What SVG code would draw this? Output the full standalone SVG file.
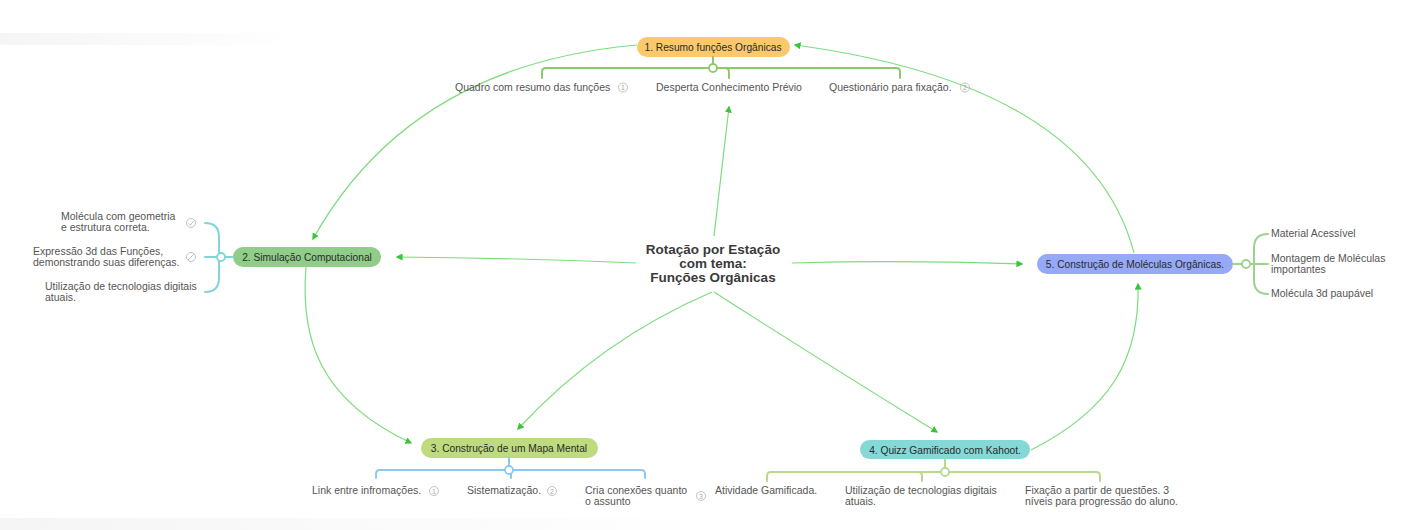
<svg xmlns="http://www.w3.org/2000/svg" width="1416" height="530" viewBox="0 0 1416 530">
<defs>
<marker id="arr" viewBox="0 0 10 10" refX="8" refY="5" markerWidth="7" markerHeight="7" orient="auto" markerUnits="userSpaceOnUse">
<path d="M0,0 L10,5 L0,10 z" fill="#3cc43c"/>
</marker>
<linearGradient id="fadeL" x1="0" y1="0" x2="1" y2="0">
<stop offset="0" stop-color="#f5f5f5"/><stop offset="1" stop-color="#ffffff"/>
</linearGradient>
</defs>
<style>
.pill{stroke:none}
.pt{font-family:"Liberation Sans",Arial,sans-serif;font-size:10.2px;fill:#2a2a2a;text-anchor:middle}
.ct{font-family:"Liberation Sans",Arial,sans-serif;font-size:10.5px;fill:#555}
.ctr{font-family:"Liberation Sans",Arial,sans-serif;font-size:13.5px;font-weight:bold;fill:#3a3a3a;text-anchor:middle}
.conn{fill:none;stroke:#7ddc7d;stroke-width:1.2}
.br{fill:none;stroke-width:2;stroke-linecap:round}
.knob{fill:#fff;stroke-width:1.8}
.ic{fill:none;stroke:#bbb;stroke-width:0.9}
.icn{font-family:"Liberation Sans",Arial,sans-serif;font-size:7px;fill:#aaa;text-anchor:middle}
</style>
<rect width="1416" height="530" fill="#ffffff"/>
<rect x="0" y="33" width="300" height="12" fill="url(#fadeL)"/>
<rect x="0" y="518" width="720" height="12" fill="url(#fadeL)"/>

<g id="connectors">
<path class="conn" d="M714,236 L729,107" marker-end="url(#arr)"/>
<path class="conn" d="M636,263 Q520,258 397,257" marker-end="url(#arr)"/>
<path class="conn" d="M792,263 Q900,260 1022,264" marker-end="url(#arr)"/>
<path class="conn" d="M712,292 Q600,340 518,429" marker-end="url(#arr)"/>
<path class="conn" d="M714,292 Q820,360 937,432" marker-end="url(#arr)"/>
<path class="conn" d="M637,45 Q410,65 313,239" marker-end="url(#arr)"/>
<path class="conn" d="M306,267 C300,340 320,400 411,443" marker-end="url(#arr)"/>
<path class="conn" d="M1031,450 C1110,410 1140,360 1138,284" marker-end="url(#arr)"/>
<path class="conn" d="M1134,253 Q1090,85 795,45" marker-end="url(#arr)"/>
</g>

<g id="center">
<text class="ctr" x="713" y="254">Rotação por Estação</text>
<text class="ctr" x="713" y="268">com tema:</text>
<text class="ctr" x="713" y="282">Funções Orgânicas</text>
</g>

<g id="node1">
<rect class="pill" x="637" y="37" width="153" height="20" rx="10" fill="#fbc96c"/>
<text class="pt" x="713" y="51">1. Resumo funções Orgânicas</text>
<path class="br" stroke="#8cc96f" d="M713,57 L713,64 M542,78 L542,72 Q542,68 546,68 L896,68 Q900,68 900,72 L900,78 M725,68 Q729,68 729,72 L729,78"/>
<circle class="knob" stroke="#8cc96f" cx="713" cy="68" r="4"/>
</g>
<g id="node1-children">
<text class="ct" x="455" y="91">Quadro com resumo das funções</text>
<circle class="ic" cx="623" cy="87.5" r="4.5"/><text class="icn" x="623" y="90">1</text>
<text class="ct" x="656" y="91">Desperta Conhecimento Prévio</text>
<text class="ct" x="829" y="91">Questionário para fixação.</text>
<circle class="ic" cx="965" cy="87.5" r="4.5"/><text class="icn" x="965" y="90">2</text>
</g>

<g id="node2">
<rect class="pill" x="233" y="247" width="148" height="20" rx="10" fill="#8fcd88"/>
<text class="pt" x="307" y="261">2. Simulação Computacional</text>
<path class="br" stroke="#7fd4d8" d="M205,223 Q219,223 219,237 L219,278 Q219,292 205,292 M205,257 L233,257"/>
<circle class="knob" stroke="#7fd4d8" cx="221" cy="257" r="4"/>
</g>
<g id="node2-children">
<text class="ct" x="61" y="220">Molécula com geometria</text>
<text class="ct" x="61" y="231">e estrutura correta.</text>
<circle class="ic" cx="191" cy="223" r="4.5"/><path class="ic" d="M188.5,223.5 L190.5,225 L193.5,221"/>
<text class="ct" x="33" y="255">Expressão 3d das Funções,</text>
<text class="ct" x="33" y="266">demonstrando suas diferenças.</text>
<circle class="ic" cx="191" cy="257" r="4.5"/><path class="ic" d="M188,260 L194,254"/>
<text class="ct" x="45" y="290">Utilização de tecnologias digitais</text>
<text class="ct" x="45" y="301">atuais.</text>
</g>

<g id="node5">
<rect class="pill" x="1037" y="254" width="196" height="20" rx="10" fill="#95a9f6"/>
<text class="pt" x="1135" y="268">5. Construção de Moléculas Orgânicas.</text>
<path class="br" stroke="#9ad38b" d="M1233,264 L1242,264 M1268,234 Q1254,234 1254,248 L1254,280 Q1254,294 1268,294 M1250,264 L1268,264"/>
<circle class="knob" stroke="#9ad38b" cx="1246" cy="264" r="4"/>
</g>
<g id="node5-children">
<text class="ct" x="1271" y="237">Material Acessível</text>
<text class="ct" x="1271" y="262">Montagem de Moléculas</text>
<text class="ct" x="1271" y="273">importantes</text>
<text class="ct" x="1271" y="297">Molécula 3d paupável</text>
</g>

<g id="node3">
<rect class="pill" x="421" y="438" width="177" height="20" rx="10" fill="#bedb7f"/>
<text class="pt" x="509" y="452">3. Construção de um Mapa Mental</text>
<path class="br" stroke="#8cc9f0" d="M509,458 L509,466 M376,478 L376,474 Q376,470 380,470 L641,470 Q645,470 645,474 L645,478 M507,470 Q511,470 511,474 L511,478"/>
<circle class="knob" stroke="#8cc9f0" cx="509" cy="470" r="4"/>
</g>
<g id="node3-children">
<text class="ct" x="312" y="494">Link entre infromações.</text>
<circle class="ic" cx="434" cy="491" r="4.5"/><text class="icn" x="434" y="493.5">1</text>
<text class="ct" x="467" y="494">Sistematização.</text>
<circle class="ic" cx="552" cy="491" r="4.5"/><text class="icn" x="552" y="493.5">2</text>
<text class="ct" x="585" y="494">Cria conexões quanto</text>
<text class="ct" x="585" y="505">o assunto</text>
<circle class="ic" cx="701" cy="496" r="4.5"/><text class="icn" x="701" y="498.5">3</text>
</g>

<g id="node4">
<rect class="pill" x="860" y="440" width="170" height="19" rx="9.5" fill="#84d8d6"/>
<text class="pt" x="945" y="453.5">4. Quizz Gamificado com Kahoot.</text>
<path class="br" stroke="#b8d98c" d="M945,459 L945,468 M767,481 L767,476 Q767,472 771,472 L1096,472 Q1100,472 1100,476 L1100,481 M918,472 Q922,472 922,476 L922,481"/>
<circle class="knob" stroke="#b8d98c" cx="945" cy="472" r="4"/>
</g>
<g id="node4-children">
<text class="ct" x="715" y="494">Atividade Gamificada.</text>
<text class="ct" x="845" y="494">Utilização de tecnologias digitais</text>
<text class="ct" x="845" y="505">atuais.</text>
<text class="ct" x="1025" y="494">Fixação a partir de questões. 3</text>
<text class="ct" x="1025" y="505">níveis para progressão do aluno.</text>
</g>
</svg>
